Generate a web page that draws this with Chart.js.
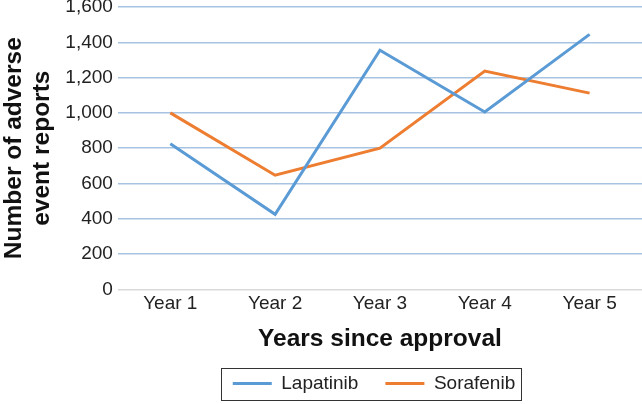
<!DOCTYPE html>
<html>
<head>
<meta charset="utf-8">
<script src="https://cdn.jsdelivr.net/npm/chart.js@4/dist/chart.umd.min.js"></script>
<style>
html,body{margin:0;padding:0;background:#fff;}
#wrap{width:642px;height:404px;}
</style>
</head>
<body>
<div id="wrap"><canvas id="c" width="642" height="404"></canvas></div>
<script>
const categories = ["Year 1", "Year 2", "Year 3", "Year 4", "Year 5"];
const lapatinib = [825, 425, 1355, 1005, 1445];
const sorafenib = [1000, 647, 800, 1237, 1112];
const seriesNames = ["Lapatinib", "Sorafenib"];
const yTitle = ["Number of adverse", "event reports"];
const xTitle = "Years since approval";

const FONT = 'Liberation Sans, Arial, sans-serif';

const legendBox = {
  id: 'legendBox',
  afterLayout(chart) {
    if (chart.legend) chart.legend.left += 106;
  },
  afterDraw(chart) {
    const lg = chart.legend;
    if (!lg || !lg.legendHitBoxes || !lg.legendHitBoxes.length) return;
    const hb = lg.legendHitBoxes;
    let l = Infinity, r = -Infinity, t = Infinity, b = -Infinity;
    hb.forEach(h => { l = Math.min(l, h.left); r = Math.max(r, h.left + h.width); t = Math.min(t, h.top); b = Math.max(b, h.top + h.height); });
    const ctx = chart.ctx;
    ctx.save();
    ctx.strokeStyle = '#333';
    ctx.lineWidth = 1;
    const cy = (t + b) / 2;
    ctx.strokeRect(Math.round(l - 12) + 0.5, Math.round(cy - 16) + 0.5, Math.round(r - l + 18), 32);
    ctx.restore();
  }
};

new Chart(document.getElementById('c'), {
  type: 'line',
  data: {
    labels: categories,
    datasets: [
      { label: seriesNames[0], data: lapatinib, borderColor: '#5b9bd5', backgroundColor: '#5b9bd5', borderWidth: 3, pointRadius: 0, pointStyle: 'line', tension: 0 },
      { label: seriesNames[1], data: sorafenib, borderColor: '#ed7d31', backgroundColor: '#ed7d31', borderWidth: 3, pointRadius: 0, pointStyle: 'line', tension: 0 }
    ]
  },
  options: {
    responsive: false,
    animation: false,
    layout: { padding: { left: 0, right: 0, top: 7, bottom: 1 } },
    plugins: {
      tooltip: { enabled: false },
      legend: {
        position: 'bottom',
        labels: {
          usePointStyle: true,
          pointStyle: 'line',
          pointStyleWidth: 39,
          boxHeight: 19,
          padding: 27,
          color: '#222',
          font: { family: FONT, size: 19 }
        }
      }
    },
    scales: {
      x: {
        offset: true,
        grid: { display: false, drawTicks: false, offset: true },
        border: { display: false },
        ticks: { color: '#222', padding: 3, font: { family: FONT, size: 19 } },
        title: { display: true, text: xTitle, color: '#111', padding: { top: 11, bottom: -3 }, font: { family: FONT, size: 24.5, weight: 'bold', lineHeight: 0.85 } }
      },
      y: {
        min: 0, max: 1600,
        afterFit: s => { s.paddingTop = 0; },
        ticks: {
          stepSize: 200, color: '#222', padding: 5,
          font: { family: FONT, size: 19, lineHeight: 0.7 },
          callback: v => v.toLocaleString('en-US')
        },
        grid: {
          drawTicks: false,
          lineWidth: 1.5,
          color: ctx => (ctx.tick && ctx.tick.value === 0) ? '#d9d9d9' : '#a7c3e2'
        },
        border: { display: false },
        title: { display: true, text: yTitle, color: '#111', padding: { top: 0, bottom: 4 }, font: { family: FONT, size: 24.5, weight: 'bold', lineHeight: 1.15 } }
      }
    }
  },
  plugins: [legendBox]
});
</script>
</body>
</html>
